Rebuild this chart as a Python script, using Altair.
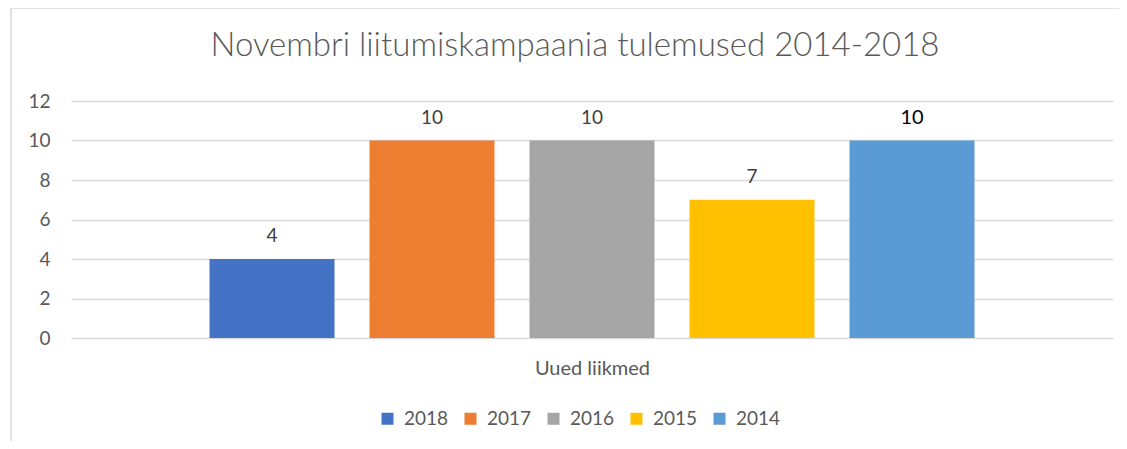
import altair as alt
import pandas as pd

series = ["2018", "2017", "2016", "2015", "2014"]
values = [4, 10, 10, 7, 10]
colors = ["#4472C4", "#ED7D31", "#A5A5A5", "#FFC000", "#5B9BD5"]
category = "Uued liikmed"
title = "Novembri liitumiskampaania tulemused 2014-2018"
y_ticks = [0, 2, 4, 6, 8, 10, 12]

df = pd.DataFrame({"series": series, "value": values, "category": category})

W, H = 1042, 237
FONT = "Lato"
GREY = "#595959"

x_axis = alt.Axis(labels=False, ticks=False, domain=False, grid=False,
                  title=category, titleFontSize=20, titleColor=GREY,
                  titleFontWeight="normal", titleFont=FONT, titlePadding=20)
x_scale = alt.Scale(domain=series, paddingInner=0.21875, paddingOuter=0.8656)
y_axis = alt.Axis(values=y_ticks, tickCount=7, title=None, domain=False, ticks=False,
                  labelFontSize=19, labelColor=GREY, labelFont=FONT,
                  labelOverlap=False, labelPadding=21,
                  gridColor="#d9d9d9", gridWidth=1.3)
y_scale = alt.Scale(domain=[0, 12], nice=False)

frame = alt.Chart(alt.Data(values=[{}])).mark_rect(
    fill="white", fillOpacity=0, stroke="#d9d9d9", strokeWidth=1.5
).encode(
    x=alt.value(-60), x2=alt.value(1200), y=alt.value(-93), y2=alt.value(500)
)

bars = alt.Chart(df).mark_bar().encode(
    x=alt.X("series:N", sort=series, scale=x_scale, axis=x_axis),
    y=alt.Y("value:Q", scale=y_scale, axis=y_axis),
    color=alt.Color(
        "series:N",
        sort=series,
        scale=alt.Scale(domain=series, range=colors),
        legend=alt.Legend(
            title=None, orient="none", legendX=307, legendY=308,
            direction="horizontal", columns=5, symbolType="square",
            symbolSize=144, symbolStrokeWidth=0, labelFontSize=19,
            labelColor=GREY, labelFont=FONT, labelOffset=7,
            columnPadding=12, gridAlign="all",
        ),
    ),
)

labels = alt.Chart(df).mark_text(
    baseline="bottom", dy=-13, fontSize=19, font=FONT
).encode(
    x=alt.X("series:N", sort=series, scale=x_scale, axis=x_axis),
    y=alt.Y("value:Q", scale=y_scale, axis=y_axis),
    text=alt.Text("value:Q"),
    color=alt.condition(alt.datum.series == "2014", alt.value("#000000"), alt.value("#404040")),
    size=alt.condition(alt.datum.series == "2014", alt.value(20), alt.value(19)),
)

chart = alt.layer(frame, bars, labels).properties(
    width=W,
    height=H,
    title=alt.TitleParams(title, fontSize=33, font=FONT, fontWeight=300,
                          color=GREY, anchor="middle", offset=0,
                          baseline="alphabetic", dy=82, dx=-17),
    autosize=alt.AutoSizeParams(type="none"),
    padding={"left": 63, "top": 93, "right": 6, "bottom": 103},
).configure_view(stroke=None).configure_axisY(labelOverlap=False)

chart.save("out.html", embed_options={"renderer": "svg", "actions": False})
